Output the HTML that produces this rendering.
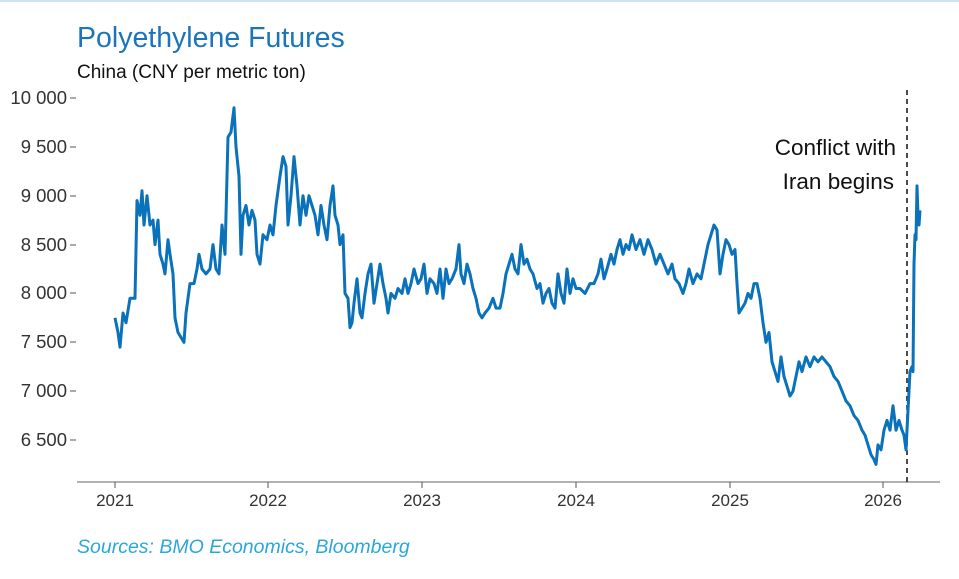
<!DOCTYPE html>
<html><head><meta charset="utf-8">
<style>
body{margin:0;background:#fff;width:959px;height:574px;overflow:hidden;font-family:"Liberation Sans",Arial,sans-serif}
</style></head><body>
<svg id="s" width="959" height="574" xmlns="http://www.w3.org/2000/svg" font-family="Liberation Sans, Arial, sans-serif">
<rect x="0" y="0" width="959" height="2" fill="#cfe4f3"/>
<text x="77" y="47" font-size="28.5" fill="#1a75bb">Polyethylene Futures</text>
<text x="77" y="78" font-size="19" fill="#111">China (CNY per metric ton)</text>
<g font-size="18.5" fill="#333" text-anchor="end">
<text x="67" y="104">10 000</text><text x="67" y="153">9 500</text><text x="67" y="202">9 000</text>
<text x="67" y="251">8 500</text><text x="67" y="299">8 000</text><text x="67" y="348">7 500</text>
<text x="67" y="397">7 000</text><text x="67" y="446">6 500</text>
</g>
<g stroke="#555" stroke-width="1">
<line x1="70" y1="98" x2="76" y2="98"/><line x1="70" y1="147" x2="76" y2="147"/><line x1="70" y1="196" x2="76" y2="196"/><line x1="70" y1="245" x2="76" y2="245"/><line x1="70" y1="293" x2="76" y2="293"/><line x1="70" y1="342" x2="76" y2="342"/><line x1="70" y1="391" x2="76" y2="391"/><line x1="70" y1="440" x2="76" y2="440"/>
</g>
<line x1="77" y1="482" x2="940" y2="482" stroke="#999" stroke-width="1.5"/>
<g stroke="#555"><line x1="115" y1="482" x2="115" y2="488"/><line x1="268" y1="482" x2="268" y2="488"/><line x1="422" y1="482" x2="422" y2="488"/><line x1="576" y1="482" x2="576" y2="488"/><line x1="730" y1="482" x2="730" y2="488"/><line x1="883" y1="482" x2="883" y2="488"/></g>
<g font-size="17" fill="#333" text-anchor="middle">
<text x="115" y="506">2021</text><text x="268" y="506">2022</text><text x="422" y="506">2023</text><text x="576" y="506">2024</text><text x="730" y="506">2025</text><text x="883" y="506">2026</text>
</g>
<line x1="907" y1="90" x2="907" y2="482" stroke="#111" stroke-width="1.5" stroke-dasharray="5,4"/>
<g font-size="22.5" fill="#111" text-anchor="end">
<text x="896" y="155">Conflict with</text><text x="894" y="189">Iran begins</text>
</g>
<polyline id="p" fill="none" stroke="#0a72ba" stroke-width="3" stroke-linejoin="round"/>
<text x="77" y="553" font-size="19.5" font-style="italic" fill="#2aa8d8">Sources: BMO Economics, Bloomberg</text>
</svg>
<script>
var d=[115,7750,118,7600,120,7450,123,7800,126,7700,130,7950,135,7950,137,8950,140,8800,142,9050,144,8700,147,9000,150,8700,153,8750,155,8500,158,8750,160,8400,163,8300,165,8200,168,8550,170,8400,173,8200,175,7750,178,7600,181,7550,184,7500,186,7800,190,8100,194,8100,197,8250,199,8400,202,8250,206,8200,210,8250,213,8500,216,8250,219,8200,222,8700,225,8400,228,9600,231,9650,234,9900,236,9500,239,9200,241,8400,243,8800,246,8900,249,8700,252,8850,255,8750,257,8400,260,8300,263,8600,267,8550,270,8700,273,8600,276,8900,280,9200,283,9400,286,9300,288,8700,291,9000,294,9400,297,9100,300,8700,303,9000,306,8800,309,9000,312,8900,315,8800,318,8600,321,8900,324,8700,327,8550,330,8900,333,9100,335,8800,338,8700,340,8500,343,8600,345,8000,348,7950,350,7650,352,7700,354,7900,357,8150,360,7800,362,7750,365,8000,368,8200,371,8300,374,7900,377,8100,380,8300,383,8100,386,7950,388,7800,391,8000,395,7950,398,8050,402,8000,405,8150,408,8000,411,8100,414,8250,418,8100,421,8150,424,8300,427,8000,430,8150,434,8100,437,8000,440,8250,443,7950,446,8250,449,8100,452,8150,456,8250,459,8500,461,8200,464,8100,467,8300,470,8200,473,8050,476,7950,479,7800,482,7750,485,7800,489,7850,493,7950,496,7850,500,7850,503,8000,506,8200,509,8300,512,8400,515,8250,518,8200,521,8500,524,8300,527,8350,530,8250,533,8200,537,8050,540,8100,543,7900,546,8000,549,8050,552,7900,555,7850,558,8200,561,8000,564,7900,567,8250,570,8000,573,8150,576,8050,580,8050,585,8000,590,8100,594,8100,598,8200,601,8350,604,8150,607,8250,611,8400,614,8300,617,8450,620,8550,623,8400,626,8500,629,8450,632,8600,636,8450,640,8550,644,8400,648,8550,652,8450,656,8300,660,8400,664,8300,668,8200,672,8300,675,8150,679,8100,683,8000,686,8100,689,8250,693,8100,697,8200,701,8150,705,8350,708,8500,711,8600,714,8700,717,8650,720,8200,723,8400,726,8550,729,8500,732,8400,735,8450,737,8100,739,7800,742,7850,745,7900,748,8000,751,7950,754,8100,757,8100,760,7950,763,7700,766,7500,769,7600,772,7300,775,7200,778,7100,781,7350,784,7150,787,7050,790,6950,793,7000,796,7150,799,7300,802,7200,806,7350,810,7250,814,7350,818,7300,822,7350,826,7300,830,7250,834,7150,838,7100,842,7000,846,6900,850,6850,854,6750,858,6700,862,6600,865,6550,868,6450,871,6350,874,6300,876,6250,878,6450,881,6400,884,6600,887,6700,890,6600,893,6850,896,6600,899,6700,902,6600,904,6550,906,6400,908,6800,910,7200,912,7250,913,7200,914,8300,915,8600,916,8550,917,9100,918,8800,919,8700,920,8850];
var s="";for(var i=0;i<d.length;i+=2){s+=d[i]+","+(98+(10000-d[i+1])*0.09771).toFixed(1)+" ";}
document.getElementById("p").setAttribute("points",s);
</script>
</body></html>
